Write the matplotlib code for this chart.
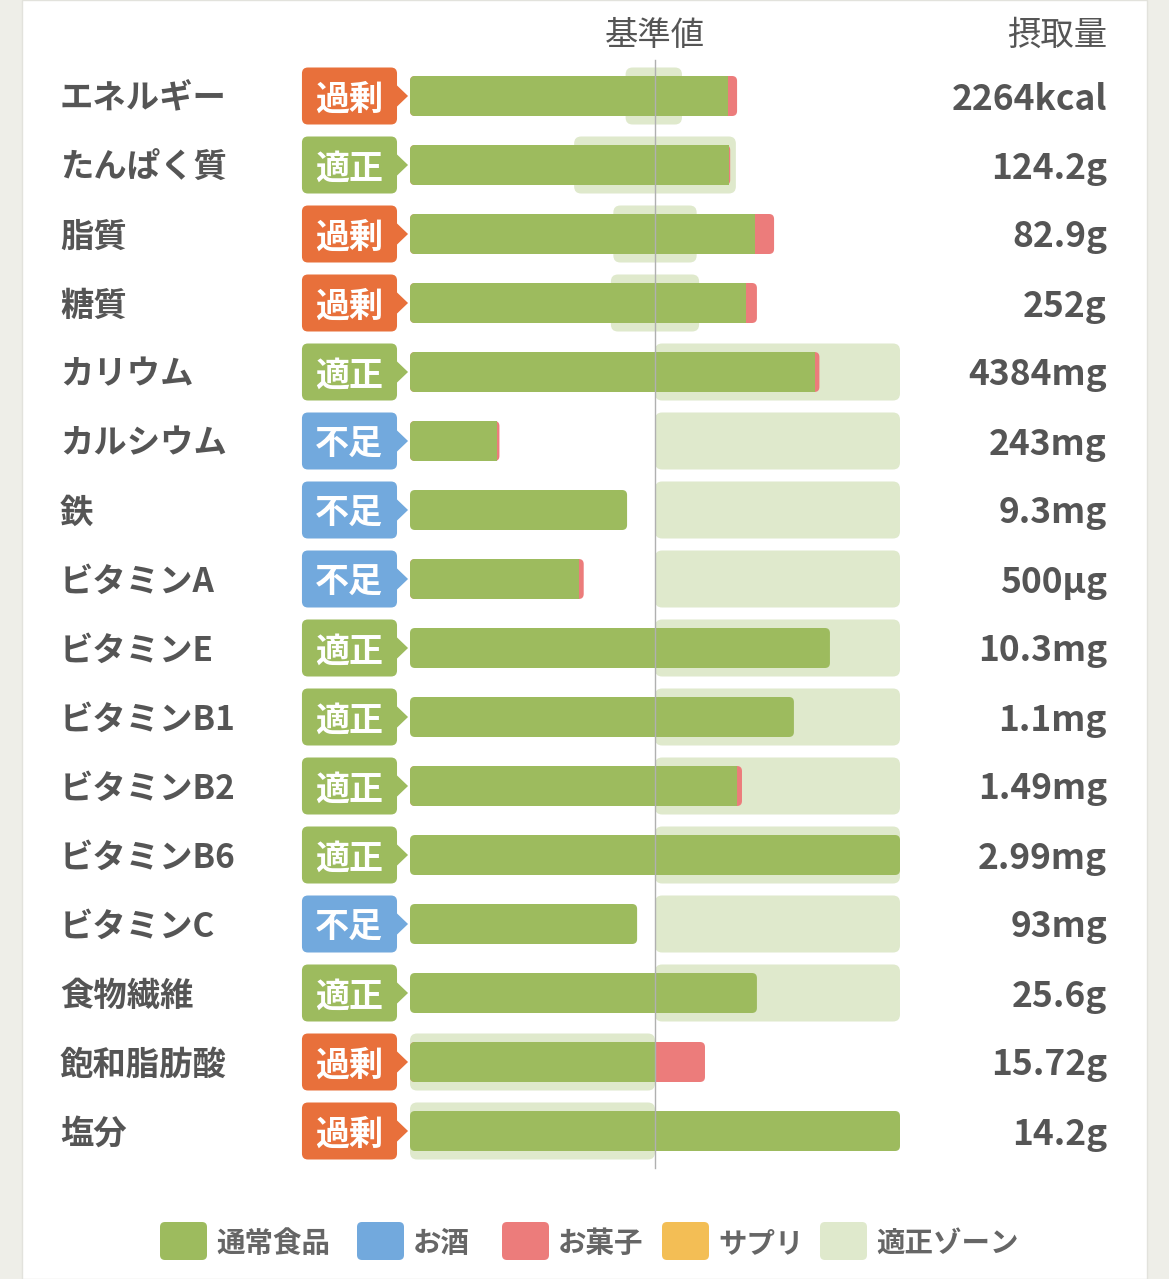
import matplotlib
matplotlib.use('Agg')
import matplotlib.pyplot as plt
from matplotlib.patches import FancyBboxPatch, Polygon, Rectangle

plt.rcParams['font.family'] = ['Noto Sans CJK JP', 'DejaVu Sans']

# data: % of reference value (100 = 基準値)
nutrients = ['エネルギー', 'たんぱく質', '脂質', '糖質', 'カリウム', 'カルシウム', '鉄',
             'ビタミンA', 'ビタミンE', 'ビタミンB1', 'ビタミンB2', 'ビタミンB6',
             'ビタミンC', '食物繊維', '飽和脂肪酸', '塩分']
status = ['過剰', '適正', '過剰', '過剰', '適正', '不足', '不足', '不足', '適正', '適正',
          '適正', '適正', '不足', '適正', '過剰', '過剰']
intake = ['2264kcal', '124.2g', '82.9g', '252g', '4384mg', '243mg', '9.3mg', '500µg',
          '10.3mg', '1.1mg', '1.49mg', '2.99mg', '93mg', '25.6g', '15.72g', '14.2g']
food = [129.8, 130.0, 140.8, 137.1, 165.3, 35.5, 88.6, 68.8, 171.4, 156.7, 133.5, 200.0,
        92.7, 141.6, 100.0, 200.0]
snack = [3.7, 0.7, 7.8, 4.5, 1.8, 1.0, 0.0, 2.1, 0.0, 0.0, 2.0, 0.0, 0.0, 0.0, 20.4, 0.0]
zone_lo = [88, 67, 83, 82, 100, 100, 100, 100, 100, 100, 100, 100, 100, 100, 0, 0]
zone_hi = [111, 133, 117, 118, 200, 200, 200, 200, 200, 200, 200, 200, 200, 200, 100, 100]

legend_labels = ['通常食品', 'お酒', 'お菓子', 'サプリ', '適正ゾーン']

GREEN = '#9dbb5e'
BLUE = '#72a9dd'
PINK = '#ec7c7b'
YELLOW = '#f3be55'
ZONE = '#dfe9cc'
status_color = {'過剰': '#e8703b', '適正': '#9dbb5e', '不足': '#72a9dd'}
TEXT = '#555555'

W, H = 1169, 1279
fig = plt.figure(figsize=(W / 100, H / 100), dpi=100)
fig.patch.set_facecolor('#eeeee8')
fig.patches.append(Rectangle((22 / W, 0), 1125 / W, 1, transform=fig.transFigure,
                             facecolor='white', edgecolor='#e2e2dc', lw=1, zorder=0))

ax = fig.add_axes([0, 0, 1, 1])
ax.set_zorder(2)
ax.patch.set_alpha(0)
ax.axis('off')
# pixel mapping: x=0 -> 410px, x=100 -> 655px ; row i -> 96 + 69*i px
sx = 2.45
sy = 69.0
ax.set_xlim(-410 / sx, (W - 410) / sx)
ax.set_ylim((H - 96) / sy, -96 / sy)
asp = sx / sy


def rbox(x0, x1, y, h, color, r=5, z=2):
    p = FancyBboxPatch((x0, y - h / 2), x1 - x0, h,
                       boxstyle=f'round,pad=0,rounding_size={r / sx}',
                       mutation_aspect=asp, facecolor=color, edgecolor='none', zorder=z)
    ax.add_patch(p)


bar_h = 40 / sy
zone_h = 57 / sy
dy = 3 / sy  # small nudge so text sits on the row centre

for i, name in enumerate(nutrients):
    # zone
    rbox(zone_lo[i], zone_hi[i], i, zone_h, ZONE, r=7, z=1)
    # bars
    total = food[i] + snack[i]
    if snack[i] > 0:
        rbox(0, total, i, bar_h, PINK, z=2)
        rbox(0, food[i], i, bar_h, GREEN, z=3)
        ax.add_patch(Rectangle((max(food[i] - 3, 0), i - bar_h / 2), min(3, food[i]), bar_h,
                               facecolor=GREEN, edgecolor='none', zorder=3))
    else:
        rbox(0, food[i], i, bar_h, GREEN, z=3)

    # status badge
    c = status_color[status[i]]
    rbox(-44.1, -5.3, i, zone_h, c, r=6, z=2)
    ah = 11 / sy
    ax.add_patch(Polygon([(-5.5, i - ah), (-0.8, i), (-5.5, i + ah)], closed=True,
                         facecolor=c, edgecolor='none', zorder=2))
    ax.text(-24.9, i + dy, status[i], ha='center', va='center', color='white',
            fontsize=24.5, fontweight='bold', zorder=4)

    ax.text(-142.9, i + dy, name, ha='left', va='center', color=TEXT, fontsize=24,
            fontweight='bold')
    ax.text(284.5, i + dy, intake[i], ha='right', va='center', color=TEXT, fontsize=25.5,
            fontweight='bold')

ax.plot([100, 100], [-0.52, 15.54], color='#b0b0b0', lw=1, zorder=5)

ax.text(100, -0.88, '基準値', ha='center', va='center', color=TEXT, fontsize=24)
ax.text(284.5, -0.88, '摂取量', ha='right', va='center', color=TEXT, fontsize=24)

# legend
leg_y = (1241 - 96) / sy
leg_colors = [GREEN, BLUE, PINK, YELLOW, ZONE]
leg_x = [160, 357, 502, 662, 820]
for lx, col, lab in zip(leg_x, leg_colors, legend_labels):
    x0 = (lx - 410) / sx
    rbox(x0, x0 + 47 / sx, leg_y, 38 / sy, col, r=5)
    ax.text(x0 + 56 / sx, leg_y + dy, lab, ha='left', va='center', color='#666666',
            fontsize=20.5, fontweight='bold')

fig.savefig('out.png', dpi=100, facecolor=fig.get_facecolor())
